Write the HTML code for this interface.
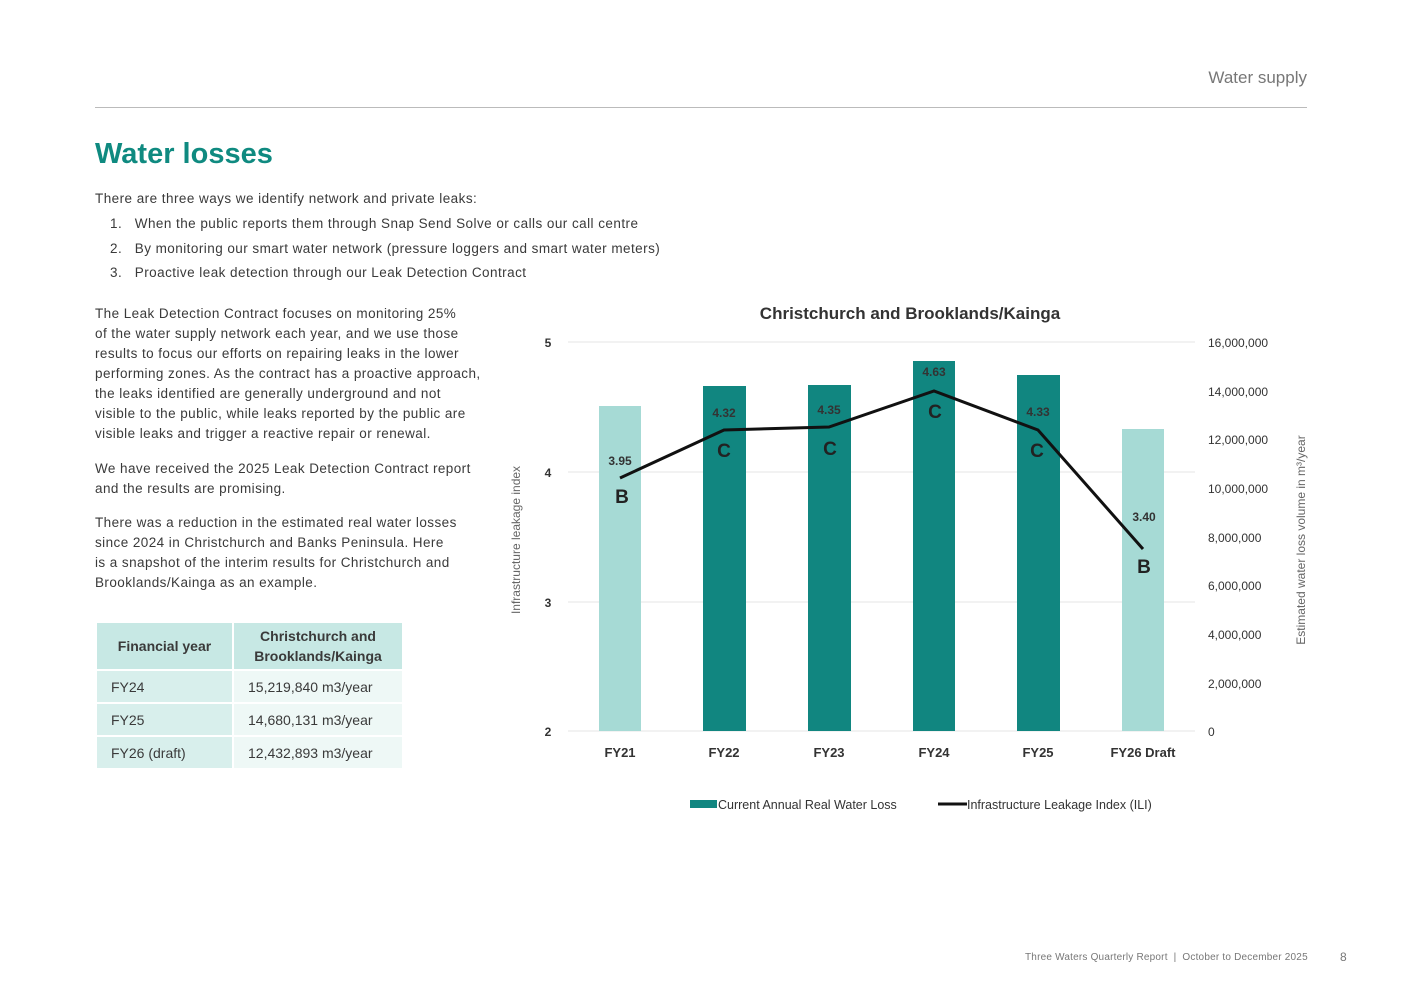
<!DOCTYPE html>
<html><head><meta charset="utf-8"><style>
body{margin:0;width:1401px;height:991px;background:#fff;position:relative;font-family:"Liberation Sans",sans-serif;color:#3a3a3a;overflow:hidden}
.a{position:absolute;white-space:nowrap}
.ls{letter-spacing:0.45px}
p.t{position:absolute;margin:0;font-size:13.5px;line-height:20px;color:#3a3a3a;letter-spacing:0.43px;white-space:nowrap}
table{position:absolute;left:95px;top:621px;border-collapse:separate;border-spacing:2px;font-size:14px}
td{padding:0 14px;height:31px;color:#3a3a3a}
</style></head><body>
<div class="a" style="right:94px;top:68px;font-size:17px;color:#777">Water supply</div>
<div class="a" style="left:95px;top:107px;width:1212px;height:1px;background:#bbb"></div>
<div class="a" style="left:95px;top:138px;font-size:29px;font-weight:bold;color:#0f8a80">Water losses</div>
<div class="a ls" style="left:95px;top:191px;font-size:13.5px">There are three ways we identify network and private leaks:</div>
<div class="a ls" style="left:110px;top:216px;font-size:13.5px">1.&nbsp;&nbsp;&nbsp;When the public reports them through Snap Send Solve or calls our call centre</div>
<div class="a ls" style="left:110px;top:241px;font-size:13.5px">2.&nbsp;&nbsp;&nbsp;By monitoring our smart water network (pressure loggers and smart water meters)</div>
<div class="a ls" style="left:110px;top:265px;font-size:13.5px">3.&nbsp;&nbsp;&nbsp;Proactive leak detection through our Leak Detection Contract</div>
<p class="t" style="left:95px;top:304px">The Leak Detection Contract focuses on monitoring 25%<br>of the water supply network each year, and we use those<br>results to focus our efforts on repairing leaks in the lower<br>performing zones. As the contract has a proactive approach,<br>the leaks identified are generally underground and not<br>visible to the public, while leaks reported by the public are<br>visible leaks and trigger a reactive repair or renewal.</p>
<p class="t" style="left:95px;top:459px">We have received the 2025 Leak Detection Contract report<br>and the results are promising.</p>
<p class="t" style="left:95px;top:513px">There was a reduction in the estimated real water losses<br>since 2024 in Christchurch and Banks Peninsula. Here<br>is a snapshot of the interim results for Christchurch and<br>Brooklands/Kainga as an example.</p>
<table>
<tr><td style="background:#c7e8e4;width:107px;height:46px;font-weight:bold;text-align:center">Financial year</td><td style="background:#c7e8e4;width:140px;font-weight:bold;text-align:center;line-height:20px">Christchurch and<br>Brooklands/Kainga</td></tr>
<tr><td style="background:#d8efec">FY24</td><td style="background:#eef8f6">15,219,840 m3/year</td></tr>
<tr><td style="background:#d8efec">FY25</td><td style="background:#eef8f6">14,680,131 m3/year</td></tr>
<tr><td style="background:#d8efec">FY26 (draft)</td><td style="background:#eef8f6">12,432,893 m3/year</td></tr>
</table>
<svg class="a" style="left:0;top:0" width="1401" height="991" font-family="Liberation Sans, sans-serif">
<text x="910" y="319" text-anchor="middle" font-size="17" font-weight="bold" fill="#333">Christchurch and Brooklands/Kainga</text>
<g stroke="#e4e4e4" stroke-width="1">
<line x1="568" y1="342" x2="1195" y2="342"/><line x1="568" y1="472" x2="1195" y2="472"/><line x1="568" y1="602" x2="1195" y2="602"/><line x1="568" y1="731" x2="1195" y2="731"/>
</g>
<g font-size="12" font-weight="bold" fill="#333" text-anchor="middle">
<text x="548" y="347">5</text><text x="548" y="477">4</text><text x="548" y="607">3</text><text x="548" y="736">2</text>
</g>
<g font-size="12" fill="#333">
<text x="1208" y="347">16,000,000</text><text x="1208" y="396">14,000,000</text><text x="1208" y="444">12,000,000</text><text x="1208" y="493">10,000,000</text><text x="1208" y="542">8,000,000</text><text x="1208" y="590">6,000,000</text><text x="1208" y="639">4,000,000</text><text x="1208" y="688">2,000,000</text><text x="1208" y="736">0</text>
</g>
<text transform="translate(520,540) rotate(-90)" text-anchor="middle" font-size="12" fill="#666">Infrastructure leakage index</text>
<text transform="translate(1305,540) rotate(-90)" text-anchor="middle" font-size="12" fill="#666">Estimated water loss volume in m³/year</text>
<rect x="599" y="406" width="42" height="325" fill="#a6dad5"/>
<rect x="703" y="386" width="43" height="345" fill="#118680"/>
<rect x="808" y="385" width="43" height="346" fill="#118680"/>
<rect x="913" y="361" width="42" height="370" fill="#118680"/>
<rect x="1017" y="375" width="43" height="356" fill="#118680"/>
<rect x="1122" y="429" width="42" height="302" fill="#a6dad5"/>
<polyline points="620,478 724,430 829,427 934,391 1038,430 1143,549" fill="none" stroke="#111" stroke-width="3"/>
<g font-size="12" font-weight="bold" fill="#333" text-anchor="middle">
<text x="620" y="465">3.95</text><text x="724" y="417">4.32</text><text x="829" y="414">4.35</text><text x="934" y="376">4.63</text><text x="1038" y="416">4.33</text><text x="1144" y="521">3.40</text>
</g>
<g font-size="19" font-weight="bold" fill="#222" text-anchor="middle">
<text x="622" y="503">B</text><text x="724" y="457">C</text><text x="830" y="455">C</text><text x="935" y="418">C</text><text x="1037" y="457">C</text><text x="1144" y="573">B</text>
</g>
<g font-size="13" font-weight="bold" fill="#333" text-anchor="middle">
<text x="620" y="757">FY21</text><text x="724" y="757">FY22</text><text x="829" y="757">FY23</text><text x="934" y="757">FY24</text><text x="1038" y="757">FY25</text><text x="1143" y="757">FY26 Draft</text>
</g>
<rect x="690" y="800" width="27" height="8" fill="#118680"/>
<text x="718" y="809" font-size="12.5" fill="#333">Current Annual Real Water Loss</text>
<line x1="938" y1="804" x2="967" y2="804" stroke="#111" stroke-width="3"/>
<text x="967" y="809" font-size="12.5" fill="#333">Infrastructure Leakage Index (ILI)</text>
</svg>
<div class="a" style="left:1025px;top:952px;font-size:10px;color:#777;letter-spacing:0.2px">Three Waters Quarterly Report &nbsp;|&nbsp; October to December 2025</div>
<div class="a" style="left:1340px;top:950px;font-size:12px;color:#777">8</div>
</body></html>
